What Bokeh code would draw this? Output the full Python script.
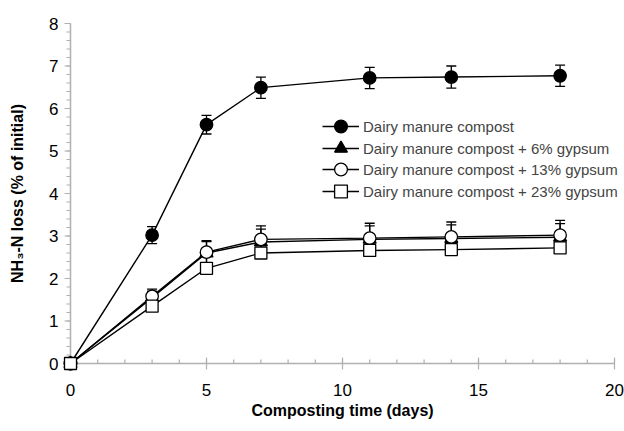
from bokeh.plotting import figure
from bokeh.models import ColumnDataSource, Whisker, Range1d, Legend, LegendItem, FixedTicker
from bokeh.embed import file_html
from bokeh.resources import INLINE

days = [0, 3, 5, 7, 11, 14, 18]
dairy = [0, 3.02, 5.62, 6.49, 6.72, 6.74, 6.77]
dairy_err = [0, 0.20, 0.22, 0.25, 0.25, 0.26, 0.25]
g6 = [0, 1.55, 2.60, 2.86, 2.92, 2.94, 2.97]
g6_err = [0, 0.15, 0.27, 0.30, 0.32, 0.32, 0.32]
g13 = [0, 1.58, 2.62, 2.92, 2.95, 2.98, 3.02]
g13_err = [0, 0.17, 0.27, 0.32, 0.35, 0.35, 0.35]
g23 = [0, 1.35, 2.24, 2.60, 2.66, 2.68, 2.72]
g23_err = [0, 0.08, 0.10, 0.10, 0.10, 0.10, 0.10]
labels = ["Dairy manure compost", "Dairy manure compost + 6% gypsum",
          "Dairy manure compost + 13% gypsum", "Dairy manure compost + 23% gypsum"]
x_ticks = [0, 5, 10, 15, 20]
x_minor = list(range(0, 21))
y_ticks = [0, 1, 2, 3, 4, 5, 6, 7, 8]
y_minor = [round(i * 0.2, 1) for i in range(41)]

FONT = "Liberation Sans"
AXIS_COLOR = "#b0b0b0"

# frame geometry (pixels) -> data units per pixel, so x=0 / y=0 sit 8 px inside the frame
PPX = 27.2
PPY = 42.5
PAD = 8

x_lo, x_hi = x_ticks[0], x_ticks[-1]
y_lo, y_hi = y_ticks[0], y_ticks[-1]

p = figure(width=624, height=431, output_backend="svg", toolbar_location=None,
           x_range=Range1d(x_lo - PAD / PPX, x_hi + PAD / PPX),
           y_range=Range1d(y_lo - PAD / PPY, y_hi + PAD / PPY),
           min_border_left=62, min_border_right=2, min_border_top=15, min_border_bottom=60)
p.grid.visible = False
p.outline_line_color = None

# axis lines and ticks drawn at x=0 / y=0
p.segment(x0=[x_lo, x_lo], y0=[y_lo, y_lo], x1=[x_hi, x_lo], y1=[y_lo, y_hi],
          line_color=AXIS_COLOR, line_width=1.5)
p.segment(x0=x_ticks, x1=x_ticks, y0=[y_lo - 6 / PPY] * len(x_ticks), y1=[y_lo + 6 / PPY] * len(x_ticks),
          line_color=AXIS_COLOR, line_width=1.2)
p.segment(x0=x_minor, x1=x_minor, y0=[y_lo] * len(x_minor), y1=[y_lo + 4 / PPY] * len(x_minor),
          line_color=AXIS_COLOR, line_width=1.2)
p.segment(x0=[x_lo - 6 / PPX] * len(y_ticks), x1=[x_lo] * len(y_ticks), y0=y_ticks, y1=y_ticks,
          line_color=AXIS_COLOR, line_width=1.2)
p.segment(x0=[x_lo - 4 / PPX] * len(y_minor), x1=[x_lo] * len(y_minor), y0=y_minor, y1=y_minor,
          line_color=AXIS_COLOR, line_width=1.2)

series = [
    (dairy, dairy_err, "circle", 12.5, "black"),
    (g6, g6_err, "triangle", 13, "black"),
    (g13, g13_err, "circle", 12.5, "white"),
    (g23, g23_err, "square", 12, "white"),
]

items = []
for (vals, errs, marker, size, fill), lab in zip(series, labels):
    src = ColumnDataSource(dict(x=days, y=vals,
                                lo=[v - e for v, e in zip(vals, errs)],
                                hi=[v + e for v, e in zip(vals, errs)]))
    w = Whisker(source=src, base="x", lower="lo", upper="hi", line_color="black", line_width=1.3)
    w.upper_head.size = 10
    w.lower_head.size = 10
    w.upper_head.line_width = 1.3
    w.lower_head.line_width = 1.3
    p.add_layout(w)
    ln = p.line("x", "y", source=src, line_color="black", line_width=1.4)
    sc = p.scatter("x", "y", source=src, marker=marker, size=size,
                   fill_color=fill, line_color="black", line_width=1.3)
    items.append(LegendItem(label=lab, renderers=[ln, sc]))

# two interleaved legends, so the legend markers can be as large as in the reference
common = dict(glyph_width=37, glyph_height=32,
              label_text_font=FONT, label_text_font_size="15px",
              background_fill_alpha=0, border_line_color=None,
              spacing=11, padding=0, margin=0, label_standoff=4)
legend_a = Legend(items=[items[0], items[2]], location=(260, 186), **common)
legend_b = Legend(items=[items[1], items[3]], location=(260, 164), **common)
p.add_layout(legend_a, "center")
p.add_layout(legend_b, "center")

for ax in (p.xaxis[0], p.yaxis[0]):
    ax.axis_line_color = None
    ax.major_tick_line_color = None
    ax.minor_tick_line_color = None
    ax.major_tick_in = 0
    ax.major_tick_out = 0
    ax.minor_tick_in = 0
    ax.minor_tick_out = 0
    ax.major_label_text_font = FONT
    ax.major_label_text_font_size = "17px"
    ax.major_label_text_color = "black"
    ax.axis_label_text_font = FONT
    ax.axis_label_text_font_style = "bold"
    ax.axis_label_text_font_size = "16px"
    ax.axis_label_text_color = "black"

p.xaxis.ticker = FixedTicker(ticks=x_ticks)
p.yaxis.ticker = FixedTicker(ticks=y_ticks)
p.xaxis.major_label_standoff = 12
p.xaxis.axis_label_standoff = 3
p.yaxis.major_label_standoff = 4
p.yaxis.axis_label_standoff = 20
p.xaxis.axis_label = "Composting time (days)"
p.yaxis.axis_label = "NH₃-N loss (% of initial)"

open("out.html", "w").write(file_html(p, INLINE))
